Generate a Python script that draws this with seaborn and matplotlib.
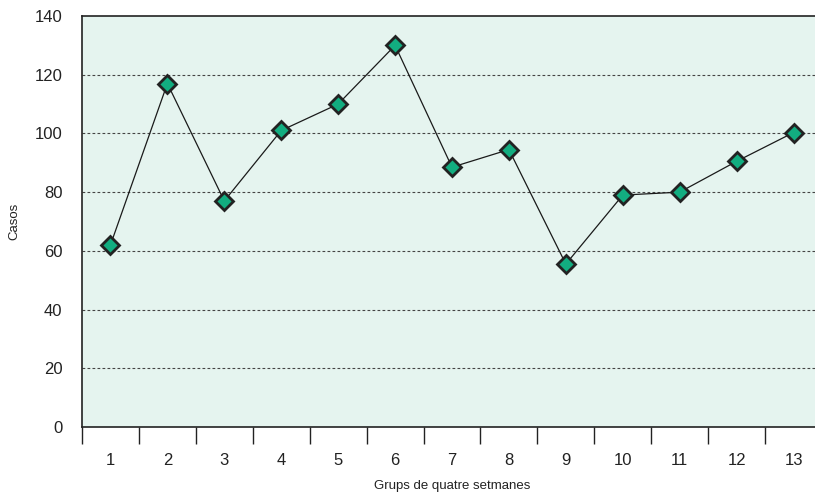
import numpy as np
import pandas as pd
import matplotlib
matplotlib.use("Agg")
import matplotlib.pyplot as plt
from matplotlib.ticker import FixedLocator
import seaborn as sns

# data
grups = [1, 2, 3, 4, 5, 6, 7, 8, 9, 10, 11, 12, 13]
casos = [62, 117, 77, 101, 110, 130, 88.5, 94.5, 55.5, 79, 80, 90.5, 100.3]
y_ticks = [0, 20, 40, 60, 80, 100, 120, 140]

df = pd.DataFrame({"grup": grups, "casos": casos})

sns.set_style("white")
plt.rcParams["font.family"] = ["Liberation Sans", "DejaVu Sans"]

fig = plt.figure(figsize=(8.15, 4.94), dpi=100)
ax = fig.add_axes([82 / 815, 67 / 494, 740 / 815, 411 / 494])
ax.set_facecolor("#e5f4ef")

sns.lineplot(data=df, x="grup", y="casos", ax=ax, color="#1a1a1a", linewidth=0.9,
             marker="D", markersize=9, markerfacecolor="#12ad80",
             markeredgecolor="#222222", markeredgewidth=2, zorder=3)

ax.set_xlim(0.5, 13.5)
ax.set_ylim(0, 140)
ax.set_yticks(y_ticks)
ax.set_xticks(grups)
ax.xaxis.set_minor_locator(FixedLocator(np.arange(0.5, 14, 1)))
ax.tick_params(axis="x", which="both", bottom=True)
ax.tick_params(axis="x", which="major", length=0, pad=19, labelsize=12, colors="#222222")
ax.tick_params(axis="x", which="minor", length=12, width=1, direction="out", color="#222222")
ax.tick_params(axis="y", length=0, pad=14, labelsize=12, colors="#222222")

for y in y_ticks[1:-1]:
    ax.axhline(y, color="#444444", linewidth=0.8, linestyle=(0, (2.5, 2)), zorder=1)

for side in ["left", "top", "bottom"]:
    ax.spines[side].set_color("#222222")
    ax.spines[side].set_linewidth(1.2)
ax.spines["right"].set_visible(False)

ax.set_xlabel("Grups de quatre setmanes", fontsize=9.5, labelpad=8, color="#222222")
ax.set_ylabel("Casos", fontsize=9.5, labelpad=10, color="#222222")

fig.savefig("out.png", dpi=100)
